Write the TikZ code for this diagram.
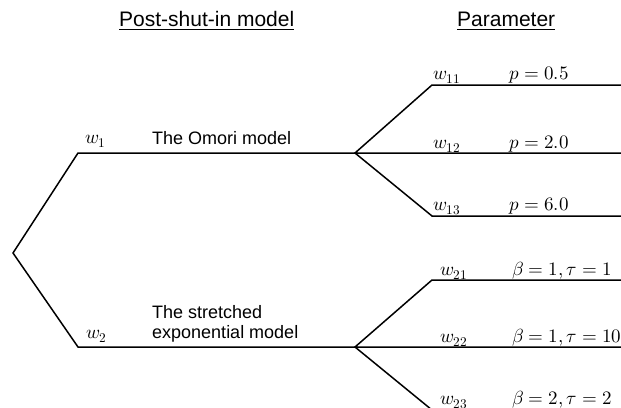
\documentclass[tikz,border=0pt]{standalone}
\usepackage{fontspec}
\usepackage{unicode-math}
\setmainfont{Liberation Sans}
\setmathfont{Latin Modern Math}
\usetikzlibrary{calc}

\tikzset{
  branch/.style={line width=1.5pt, line join=miter},
  head/.style={anchor=base west, inner sep=0pt, font=\fontsize{21}{25}\selectfont},
  model/.style={anchor=base west, inner sep=0pt, align=left, font=\fontsize{18}{20}\selectfont},
  weight/.style={anchor=base west, inner sep=0pt, font=\fontsize{19}{23}\selectfont},
}

\begin{document}
\begin{tikzpicture}[x=1pt,y=-1pt]
\useasboundingbox (0,0) rectangle (621,407);

\node[head] (hmodel) at (119,26) {\underline{Post-shut-in model}};
\node[head] (hpar) at (457,26) {\underline{Parameter}};

\coordinate (root) at (13,253);
\coordinate (m1) at (78,153);
\coordinate (m2) at (78,347);
\coordinate (s1) at (355,153);
\coordinate (s2) at (355,347);
\coordinate (c11) at (432,85);
\coordinate (c13) at (432,216);
\coordinate (c21) at (432,280);
\coordinate (c23) at (432,410);
\coordinate (e11) at (622,85);
\coordinate (e12) at (622,153);
\coordinate (e13) at (622,216);
\coordinate (e21) at (622,280);
\coordinate (e22) at (622,347);
\coordinate (e23) at (622,410);

\draw[branch] (s1) -- (m1) -- (root) -- (m2) -- (s2);
\draw[branch] (e11) -- (c11) -- (s1) -- (e12);
\draw[branch] (s1) -- (c13) -- (e13);
\draw[branch] (e21) -- (c21) -- (s2) -- (e22);
\draw[branch] (s2) -- (c23) -- (e23);

\node[weight] (w1) at (85,143) {$w_1$};
\node[weight] (w2) at (86,338) {$w_2$};
\node[model] (omori) at (152,144) {The Omori model};
\node[model] (stretched) at (152,338) {The stretched\\exponential model};

\node[weight] (w11) at (433,79) {$w_{11}$};
\node[weight] (w12) at (433,148) {$w_{12}$};
\node[weight] (w13) at (433,210) {$w_{13}$};
\node[weight] (w21) at (440,275) {$w_{21}$};
\node[weight] (w22) at (440,342) {$w_{22}$};
\node[weight] (w23) at (440,404) {$w_{23}$};

\node[weight] (p11) at (509,79) {$p = 0.5$};
\node[weight] (p12) at (509,148) {$p = 2.0$};
\node[weight] (p13) at (509,210) {$p = 6.0$};
\node[weight] (p21) at (512,275) {$\beta = 1, \tau = 1$};
\node[weight] (p22) at (512,342) {$\beta = 1, \tau = 10$};
\node[weight] (p23) at (512,404) {$\beta = 2, \tau = 2$};
\end{tikzpicture}
\end{document}
